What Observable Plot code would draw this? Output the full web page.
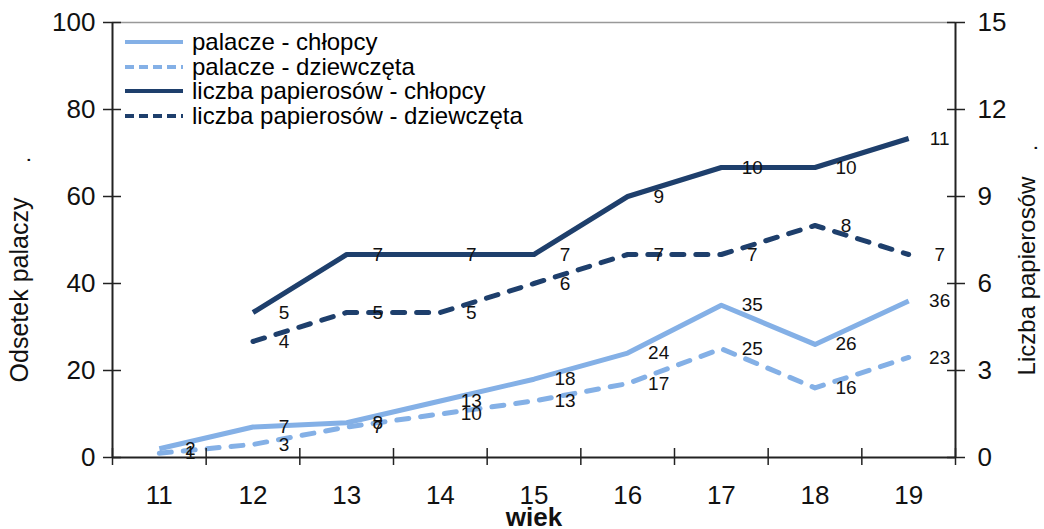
<!DOCTYPE html>
<html>
<head>
<meta charset="utf-8">
<script src="https://cdn.jsdelivr.net/npm/d3@7"></script>
<script src="https://cdn.jsdelivr.net/npm/@observablehq/plot@0.6"></script>
<style>
  html, body { margin: 0; padding: 0; background: #fff; }
  #wrap { position: relative; width: 1044px; height: 529px; font-family: "Liberation Sans", Arial, sans-serif; }
  #legend { position: absolute; left: 125px; top: 30px; font-size: 24px; line-height: 24.5px; color: #000; }
  #legend .row { display: flex; align-items: center; white-space: nowrap; }
  #legend svg { margin-right: 9px; }
</style>
</head>
<body>
<div id="wrap"><div id="legend"></div></div>
<script>
// ---- data ----
const ages = [11, 12, 13, 14, 15, 16, 17, 18, 19];
const palaczeChlopcy = [2, 7, 8, 13, 18, 24, 35, 26, 36];
const palaczeDziewczeta = [1, 3, 7, 10, 13, 17, 25, 16, 23];
const papierosyAges = [12, 13, 14, 15, 16, 17, 18, 19];
const papierosyChlopcy = [5, 7, 7, 7, 9, 10, 10, 11];
const papierosyDziewczeta = [4, 5, 5, 6, 7, 7, 8, 7];
const leftTicks = [0, 20, 40, 60, 80, 100];
const rightTicks = [0, 3, 6, 9, 12, 15];
const leftMax = 100, rightMax = 15;
const seriesNames = ["palacze - chłopcy", "palacze - dziewczęta", "liczba papierosów - chłopcy", "liczba papierosów - dziewczęta"];

const light = "#84b0e6", dark = "#1e3f6c";
const toLeft = v => v * leftMax / rightMax;

const rows = [
  ...ages.map((a, i) => ({s: seriesNames[0], age: a, v: palaczeChlopcy[i], y: palaczeChlopcy[i]})),
  ...ages.map((a, i) => ({s: seriesNames[1], age: a, v: palaczeDziewczeta[i], y: palaczeDziewczeta[i]})),
  ...papierosyAges.map((a, i) => ({s: seriesNames[2], age: a, v: papierosyChlopcy[i], y: toLeft(papierosyChlopcy[i])})),
  ...papierosyAges.map((a, i) => ({s: seriesNames[3], age: a, v: papierosyDziewczeta[i], y: toLeft(papierosyDziewczeta[i])}))
];
const style = {
  [seriesNames[0]]: {stroke: light, dash: null},
  [seriesNames[1]]: {stroke: light, dash: "12,12"},
  [seriesNames[2]]: {stroke: dark, dash: null},
  [seriesNames[3]]: {stroke: dark, dash: "12,12"}
};
const boundaries = [ages[0] - 0.5, ...ages.map(a => a + 0.5)];
const xDomain = [ages[0] - 0.5, ages[ages.length - 1] + 0.5];
const font = "Liberation Sans, Arial, sans-serif";

const lineMarks = seriesNames.map(n => Plot.line(rows.filter(r => r.s === n), {
  x: "age", y: "y", stroke: style[n].stroke, strokeWidth: 5,
  strokeDasharray: style[n].dash, strokeLinecap: style[n].dash ? "round" : "butt", strokeLinejoin: "round"
}));

const chart = Plot.plot({
  width: 1044, height: 529,
  marginLeft: 112, marginRight: 89, marginTop: 22, marginBottom: 72,
  style: {fontFamily: font, background: "transparent", overflow: "visible"},
  x: {domain: xDomain, axis: null},
  y: {domain: [0, leftMax], axis: null},
  marks: [
    ...lineMarks,
    Plot.text(rows, {x: "age", y: "y", text: d => String(d.v), dx: 31, fontSize: 19, fill: "#111"}),
    // frame lines
    Plot.ruleY([leftMax], {stroke: "#999", strokeWidth: 1.5}),
    Plot.ruleY([0], {stroke: "#222", strokeWidth: 2}),
    Plot.ruleX(xDomain, {stroke: "#222", strokeWidth: 2}),
    // x axis
    Plot.axisX({ticks: boundaries, tickSize: 17, dy: -9, tickFormat: () => "", label: null, stroke: "#222", strokeWidth: 1.5}),
    Plot.axisX({ticks: ages, tickSize: 0, tickPadding: 28, fontSize: 26, label: null, tickFormat: d => String(d), fill: "#111"}),
    // left axis
    Plot.axisY({ticks: leftTicks, tickSize: 18, dx: 9, tickFormat: () => "", label: null, stroke: "#222", strokeWidth: 1.5}),
    Plot.axisY({ticks: leftTicks, tickSize: 0, tickPadding: 17, fontSize: 26, label: null, tickFormat: d => String(d), fill: "#111"}),
    // right axis
    Plot.axisY({anchor: "right", ticks: rightTicks.map(toLeft), tickSize: 18, dx: -9, tickFormat: () => "", label: null, stroke: "#222", strokeWidth: 1.5}),
    Plot.axisY({anchor: "right", ticks: rightTicks.map(toLeft), tickSize: 0, tickPadding: 22, fontSize: 26, label: null, tickFormat: d => String(Math.round(d * rightMax / leftMax)), fill: "#111"}),
    // titles
    Plot.text(["wiek"], {frameAnchor: "bottom", dy: 68, fontSize: 26, fontWeight: "bold", fill: "#111"}),
    Plot.text(["Odsetek palaczy"], {frameAnchor: "left", textAnchor: "middle", dx: -93, dy: 50, rotate: -90, fontSize: 25, fill: "#111"}),
    Plot.text(["."], {frameAnchor: "left", textAnchor: "middle", dx: -90, dy: -80, rotate: -90, fontSize: 22, fill: "#111"}),
    Plot.text(["Liczba papierosów"], {frameAnchor: "right", textAnchor: "middle", dx: 72, dy: 36, rotate: -90, fontSize: 24, fill: "#111"}),
    Plot.text(["."], {frameAnchor: "right", textAnchor: "middle", dx: 74, dy: -92, rotate: -90, fontSize: 22, fill: "#111"})
  ]
});
document.getElementById("wrap").prepend(chart);

// legend (inside plot area, top-left)
const legend = d3.select("#legend");
seriesNames.forEach(n => {
  const row = legend.append("div").attr("class", "row");
  const sw = row.append("svg").attr("width", 58).attr("height", 10);
  sw.append("line").attr("x1", 0).attr("x2", 58).attr("y1", 5).attr("y2", 5)
    .attr("stroke", style[n].stroke).attr("stroke-width", 4)
    .attr("stroke-dasharray", style[n].dash ? "9,5" : null);
  row.append("span").text(n);
});
</script>
</body>
</html>
